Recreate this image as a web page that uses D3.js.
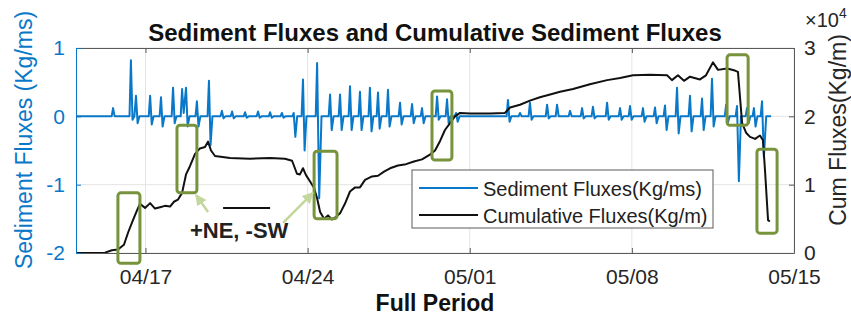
<!DOCTYPE html>
<html>
<head>
<meta charset="utf-8">
<script src="https://cdnjs.cloudflare.com/ajax/libs/d3/7.8.5/d3.min.js"></script>
<style>
body { margin: 0; background: #fff; }
svg text { font-family: "Liberation Sans", Arial, Helvetica, sans-serif; }
</style>
</head>
<body>
<svg id="chart" width="851" height="317"></svg>
<script>
// time is in days after 04/14
var fluxDays = [0, 1.54, 1.60, 1.67, 2.31, 2.37, 2.44, 2.52, 2.59, 2.66, 2.74, 3.14, 3.20, 3.27, 3.35,
    3.61, 3.67, 3.74, 3.82, 4.13, 4.19, 4.26, 4.34, 4.52, 4.58, 4.65, 4.75, 4.82, 4.90,
    5.16, 5.22, 5.29, 5.37, 5.68, 5.74, 5.81, 5.89, 6.24, 6.30, 6.37, 6.45, 6.68, 6.74, 6.81, 6.89,
    7.24, 7.30, 7.37, 7.45, 7.80, 7.86, 7.93, 8.01, 8.32, 8.38, 8.45, 8.53, 8.83, 8.89, 8.96, 9.04,
    9.34, 9.40, 9.47, 9.55, 9.74, 9.80, 9.87, 9.95, 10.35, 10.41, 10.50, 10.60, 10.91, 10.97, 11.04, 11.12,
    11.34, 11.40, 11.47, 11.55, 11.77, 11.83, 11.90, 11.98, 12.20, 12.26, 12.33, 12.41,
    12.63, 12.69, 12.76, 12.84, 12.98, 13.04, 13.11, 13.19, 13.41, 13.47, 13.54, 13.62,
    13.93, 13.99, 14.06, 14.14, 14.45, 14.51, 14.58, 14.66, 14.88, 14.94, 15.01, 15.09,
    15.53, 15.59, 15.66, 15.74, 15.96, 16.02, 16.09, 16.17, 16.35, 16.41, 16.48, 16.56,
    18.59, 18.65, 18.72, 18.80, 19.11, 19.17, 19.24, 19.54, 19.60, 19.67, 19.75,
    20.28, 20.34, 20.41, 20.49, 20.71, 20.77, 20.84, 21.27, 21.33, 21.40, 21.79, 21.85, 21.92, 22.00,
    22.26, 22.32, 22.39, 22.47, 22.87, 22.93, 23.00, 23.08, 23.43, 23.49, 23.56, 23.64,
    23.86, 23.92, 23.99, 24.07, 24.42, 24.48, 24.55, 24.63, 24.94, 25.00, 25.07, 25.15,
    25.37, 25.43, 25.50, 25.58, 25.89, 25.95, 26.02, 26.10, 26.45, 26.51, 26.58, 26.66,
    26.97, 27.03, 27.10, 27.18, 27.40, 27.46, 27.53, 27.61, 28.01, 28.07, 28.14, 28.22,
    28.48, 28.54, 28.62, 28.71, 28.91, 28.97, 29.04, 29.12, 29.21, 29.27, 29.34, 29.42,
    29.56, 29.62, 29.70, 29.80, 30.01];
var fluxValues = [0, 0, 0.12, 0, 0, 0.82, -0.05, 0, 0.30, -0.10, 0, 0, 0.30, -0.12, 0,
    0, 0.28, -0.15, 0, 0, 0.42, -0.10, 0, 0, 0.40, 0.05, 0.42, -0.15, 0,
    0, 0.22, -0.15, 0, 0, 0.52, -0.42, 0, 0, 0.08, -0.03, 0, 0, 0.07, -0.03, 0,
    0, 0.06, -0.02, 0, 0, 0.07, -0.02, 0, 0, 0.06, -0.02, 0, 0, 0.05, -0.02, 0,
    0, 0.05, -0.30, 0, 0, 0.54, -0.50, 0, 0, 0.78, -1.20, 0, 0, 0.32, -0.20, 0,
    0, 0.32, -0.20, 0, 0, 0.44, -0.20, 0, 0, 0.36, -0.20, 0,
    0, 0.42, -0.22, 0, 0, 0.35, -0.18, 0, 0, 0.39, -0.15, 0,
    0, 0.20, -0.12, 0, 0, 0.18, -0.10, 0, 0, 0.12, -0.10, 0,
    0, 0.29, -0.05, 0, 0, 0.25, -0.10, 0, 0, 0.05, -0.08, 0,
    0, 0.24, -0.08, 0, 0, 0.05, 0, 0, 0.20, -0.05, 0,
    0, 0.17, -0.03, 0, 0, 0.17, 0, 0, 0.08, 0, 0, 0.12, -0.03, 0,
    0, 0.14, -0.03, 0, 0, 0.20, -0.05, 0, 0, 0.12, -0.05, 0,
    0, 0.15, -0.05, 0, 0, 0.12, -0.08, 0, 0, 0.13, -0.10, 0,
    0, 0.16, -0.20, 0, 0, 0.42, -0.25, 0, 0, 0.30, -0.22, 0,
    0, 0.26, -0.20, 0, 0, 0.55, -0.15, 0, 0, 0.17, -0.10, 0,
    0, 0.15, -0.95, 0, 0, 0.12, -0.10, 0, 0, 0.12, -0.15, 0,
    0, 0.22, -0.60, 0, 0];

var cumDays = [0, 1.25, 1.55, 1.81, 2.07, 2.25, 2.46, 2.63, 2.76, 2.98, 3.20, 3.41, 3.63, 3.84, 4.06,
    4.23, 4.40, 4.58, 4.75, 4.92, 5.14, 5.35, 5.57, 5.70, 5.83, 6.00, 6.65, 7.51, 8.38, 9.02,
    9.33, 9.54, 9.67, 9.80, 9.93, 10.10, 10.28, 10.41, 10.54, 10.71, 10.88, 11.05, 11.23, 11.40,
    11.61, 11.83, 12.05, 12.26, 12.48, 12.78, 13.04, 13.30, 13.56, 13.90, 14.25, 14.59, 14.94,
    15.28, 15.50, 15.72, 15.93, 16.15, 16.36, 16.58, 17.01, 17.88, 18.52, 18.74, 19.17, 19.60,
    20.03, 20.47, 20.90, 21.46, 22.19, 22.93, 23.49, 24.05, 24.78, 25.52, 25.73, 25.99, 26.25,
    26.51, 26.94, 27.20, 27.50, 27.72, 28.11, 28.45, 28.58, 28.76, 28.93, 29.10, 29.32, 29.53,
    29.66, 29.75, 29.88, 29.96];
var cumValues = [0, 50, 400, 500, 1200, 3000, 4800, 6200, 7200, 6600, 7300, 6500, 6700, 6900, 6800,
    7500, 7800, 8800, 11500, 12700, 14500, 15300, 15500, 16300, 15000, 14200, 13900, 13800, 13900, 13800,
    13500, 11600, 11500, 12400, 11400, 10500, 9500, 8000, 6000, 5000, 5500, 4900, 5300, 5800,
    7200, 9000, 9600, 9600, 10700, 11200, 11300, 11900, 12400, 12800, 13000, 13400, 13700,
    14400, 15000, 16400, 18000, 19000, 20000, 20500, 20400, 20400, 20500, 21300, 21700, 22300,
    22800, 23200, 23600, 24000, 24700, 25300, 25600, 26000, 26100, 26000, 25300, 26000, 25200,
    25800, 25400, 26000, 27900, 26800, 27000, 26700, 26500, 19000, 17600, 17000, 16700, 17200,
    16500, 12000, 4800, 4600];

var tickDays = [3, 10, 17, 24, 31];
var tickLabels = ["04/17", "04/24", "05/01", "05/08", "05/15"];
var fluxTicks = [-2, -1, 0, 1];
var cumTicks = [0, 10000, 20000, 30000];

// highlighted events: [start day, end day, top, bottom] in flux units
var eventBoxes = [
    [1.81, 2.76, -1.12, -2.15],
    [4.36, 5.22, -0.13, -1.12],
    [10.28, 11.27, -0.51, -1.50],
    [15.37, 16.23, 0.37, -0.64],
    [28.11, 29.02, 0.90, -0.13],
    [29.40, 30.27, -0.48, -1.71]
];

var svg = d3.select("#chart");
var plotLeft = 76, plotRight = 794, plotTop = 48, plotBottom = 253;
var blue = "#0a78c8", dark = "#262626", gray = "#5a5a5a";
var green = "#77933c", paleGreen = "#c3d69b";

var x = d3.scaleLinear().domain([0, 31]).range([plotLeft, plotRight]);
var yL = d3.scaleLinear().domain([-2, 1]).range([plotBottom, plotTop]);
var yR = d3.scaleLinear().domain([0, 30000]).range([plotBottom, plotTop]);

svg.append("defs").append("clipPath").attr("id", "plot")
    .append("rect").attr("x", plotLeft).attr("y", plotTop)
    .attr("width", plotRight - plotLeft).attr("height", plotBottom - plotTop);

// grid
var grid = svg.append("g").attr("stroke", "#e4e4e4").attr("stroke-width", 1);
grid.selectAll(".gx").data(tickDays).enter().append("line")
    .attr("x1", d => x(d)).attr("x2", d => x(d))
    .attr("y1", plotTop).attr("y2", plotBottom);
grid.selectAll(".gy").data(fluxTicks).enter().append("line")
    .attr("x1", plotLeft).attr("x2", plotRight)
    .attr("y1", d => yL(d)).attr("y2", d => yL(d));

// the two series
var plot = svg.append("g").attr("clip-path", "url(#plot)");

var fluxLine = d3.line()
    .x((d, i) => x(fluxDays[i]))
    .y(d => yL(d));
var cumLine = d3.line()
    .x((d, i) => x(cumDays[i]))
    .y(d => yR(d));

plot.append("path").datum(fluxValues)
    .attr("d", fluxLine)
    .attr("fill", "none").attr("stroke", blue).attr("stroke-width", 2)
    .attr("stroke-linejoin", "round");
plot.append("path").datum(cumValues)
    .attr("d", cumLine)
    .attr("fill", "none").attr("stroke", "#111").attr("stroke-width", 2)
    .attr("stroke-linejoin", "round");

// axes, ticks point inward like matlab
function styleAxis(g, color, size) {
    g.attr("font-size", size);
    g.select(".domain").attr("stroke", color);
    g.selectAll(".tick line").attr("stroke", color);
    g.selectAll(".tick text").attr("fill", color);
}

svg.append("g")
    .attr("transform", "translate(0," + plotBottom + ")")
    .call(d3.axisBottom(x).tickValues(tickDays)
        .tickFormat((d, i) => tickLabels[i])
        .tickSizeInner(-5).tickSizeOuter(0).tickPadding(16))
    .call(g => styleAxis(g, gray, 21))
    .call(g => g.selectAll(".tick text").attr("fill", dark));

svg.append("g")
    .attr("transform", "translate(0," + plotTop + ")")
    .call(d3.axisTop(x).tickValues(tickDays).tickFormat("")
        .tickSizeInner(-5).tickSizeOuter(0))
    .call(g => styleAxis(g, gray, 21));

svg.append("g")
    .attr("transform", "translate(" + plotLeft + ",0)")
    .call(d3.axisLeft(yL).tickValues(fluxTicks).tickFormat(d3.format("d"))
        .tickSizeInner(-5).tickSizeOuter(0).tickPadding(11))
    .call(g => styleAxis(g, blue, 21))
    .call(g => g.selectAll(".tick text").text(d => d < 0 ? "-" + Math.abs(d) : d));

svg.append("g")
    .attr("transform", "translate(" + plotRight + ",0)")
    .call(d3.axisRight(yR).tickValues(cumTicks).tickFormat(d => d / 10000)
        .tickSizeInner(-5).tickSizeOuter(0).tickPadding(10))
    .call(g => styleAxis(g, gray, 21))
    .call(g => g.selectAll(".tick text").attr("fill", dark));

// x10^4 exponent
var expo = svg.append("text")
    .attr("x", 805).attr("y", 27)
    .attr("font-size", 20).attr("fill", dark)
    .text("\u00d710");
expo.append("tspan").attr("dy", -9).attr("font-size", 14).text("4");

// titles
svg.append("text")
    .attr("x", (plotLeft + plotRight) / 2).attr("y", 41)
    .attr("text-anchor", "middle").attr("font-size", 24).attr("font-weight", "bold")
    .attr("fill", "#111")
    .text("Sediment Fluxes and Cumulative Sediment Fluxes");

svg.append("text")
    .attr("x", (plotLeft + plotRight) / 2).attr("y", 311)
    .attr("text-anchor", "middle").attr("font-size", 23).attr("font-weight", "bold")
    .attr("fill", "#111")
    .text("Full Period");

svg.append("text")
    .attr("transform", "translate(32,140) rotate(-90)")
    .attr("text-anchor", "middle").attr("font-size", 23).attr("fill", blue)
    .text("Sediment Fluxes (Kg/ms)");

svg.append("text")
    .attr("transform", "translate(846,130) rotate(-90)")
    .attr("text-anchor", "middle").attr("font-size", 23).attr("fill", dark)
    .text("Cum Fluxes(Kg/m)");

// green event boxes
svg.append("g").selectAll("rect").data(eventBoxes).enter().append("rect")
    .attr("x", d => x(d[0])).attr("y", d => yL(d[2]))
    .attr("width", d => x(d[1]) - x(d[0]))
    .attr("height", d => yL(d[3]) - yL(d[2]))
    .attr("rx", 3)
    .attr("fill", "none").attr("stroke", green).attr("stroke-width", 3);

// arrows pointing at two of the boxes
svg.select("defs").append("marker")
    .attr("id", "head").attr("viewBox", "0 0 10 10")
    .attr("refX", 9).attr("refY", 5)
    .attr("markerWidth", 4.5).attr("markerHeight", 4.5)
    .attr("orient", "auto")
    .append("path").attr("d", "M0,0L10,5L0,10z").attr("fill", paleGreen);

var arrows = [[5.70, -1.40, 5.18, -1.15], [8.94, -1.56, 10.23, -1.12]];
svg.append("g").selectAll("line").data(arrows).enter().append("line")
    .attr("x1", d => x(d[0])).attr("y1", d => yL(d[1]))
    .attr("x2", d => x(d[2])).attr("y2", d => yL(d[3]))
    .attr("stroke", paleGreen).attr("stroke-width", 2.5)
    .attr("marker-end", "url(#head)");

svg.append("line")
    .attr("x1", x(6.35)).attr("x2", x(8.38))
    .attr("y1", yL(-1.34)).attr("y2", yL(-1.34))
    .attr("stroke", "#111").attr("stroke-width", 2);

svg.append("text")
    .attr("x", x(4.92)).attr("y", yL(-1.78))
    .attr("font-size", 22).attr("font-weight", "bold").attr("fill", "#222")
    .text("+NE, -SW");

// legend
var legend = svg.append("g").attr("transform", "translate(412,170)");
legend.append("rect")
    .attr("width", 301).attr("height", 58)
    .attr("fill", "#fff").attr("stroke", gray).attr("stroke-width", 1);

var legendItems = [
    { label: "Sediment Fluxes(Kg/ms)", color: blue },
    { label: "Cumulative Fluxes(Kg/m)", color: "#111" }
];
var row = legend.selectAll(".item").data(legendItems).enter().append("g")
    .attr("transform", (d, i) => "translate(0," + (18 + i * 27) + ")");
row.append("line")
    .attr("x1", 7).attr("x2", 66)
    .attr("stroke", d => d.color).attr("stroke-width", 2);
row.append("text")
    .attr("x", 71).attr("y", 8)
    .attr("font-size", 20).attr("fill", "#222")
    .text(d => d.label);
</script>
</body>
</html>
